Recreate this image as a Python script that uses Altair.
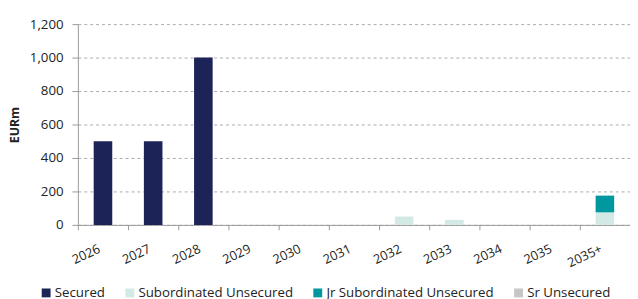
import altair as alt
import pandas as pd

years = ["2026", "2027", "2028", "2029", "2030", "2031", "2032", "2033", "2034", "2035", "2035+"]
series = ["Secured", "Subordinated Unsecured", "Jr Subordinated Unsecured", "Sr Unsecured"]
colors = ["#1b2357", "#d3e9e5", "#00979f", "#c6c6c6"]
secured = [500, 500, 1000, 0, 0, 0, 0, 0, 0, 0, 0]
sub_unsecured = [0, 0, 0, 0, 0, 0, 50, 30, 0, 0, 75]
jr_sub_unsecured = [0, 0, 0, 0, 0, 0, 0, 0, 0, 0, 100]
sr_unsecured = [0, 0, 0, 0, 0, 0, 0, 0, 0, 0, 0]

vals = [secured, sub_unsecured, jr_sub_unsecured, sr_unsecured]
rows = []
for si, (s, v) in enumerate(zip(series, vals)):
    for y, val in zip(years, v):
        rows.append({"year": y, "series": s, "value": val, "ord": si})
df = pd.DataFrame(rows)

font = "Open Sans"

chart = alt.Chart(df).mark_bar(width=alt.RelativeBandSize(0.37)).encode(
    x=alt.X("year:N", sort=years, title=None,
            scale=alt.Scale(paddingInner=0, paddingOuter=0),
            axis=alt.Axis(labelAngle=-25, bandPosition=0, labelOffset=-6,
                          labelAlign="right",
                          labelFont=font, labelFontSize=13, labelColor="#222",
                          labelPadding=13, domainColor="#999", tickColor="#999",
                          tickSize=5, grid=False)),
    y=alt.Y("value:Q", title="EURm", stack="zero",
            scale=alt.Scale(domain=[0, 1200]),
            axis=alt.Axis(values=[0, 200, 400, 600, 800, 1000, 1200], format=",.0f",
                          labelFont=font, labelFontSize=13.5, labelColor="#222",
                          labelPadding=9,
                          titleFont=font, titleFontSize=12.5, titleFontWeight="bold",
                          titleColor="#222", titlePadding=8,
                          domainColor="#999", tickColor="#999", tickSize=6,
                          grid=True, gridColor="#aaa", gridDash=[3, 3], gridWidth=1)),
    color=alt.Color("series:N", sort=series,
                    scale=alt.Scale(domain=series, range=colors),
                    legend=alt.Legend(title=None, orient="none", direction="horizontal",
                                      legendX=-39, legendY=266,
                                      symbolType="square", symbolSize=81,
                                      symbolStrokeWidth=0, symbolOpacity=1,
                                      labelFont=font, labelFontSize=13.5,
                                      labelColor="#222", columnPadding=18,
                                      labelOffset=2, labelLimit=300)),
    order=alt.Order("ord:Q"),
).properties(
    width=561, height=204,
    autosize=alt.AutoSizeParams(type="none"),
    padding={"left": 71, "top": 14, "right": 0, "bottom": 78},
).configure_view(stroke=None)

chart.save("out.html", embed_options={"renderer": "svg", "actions": False})
